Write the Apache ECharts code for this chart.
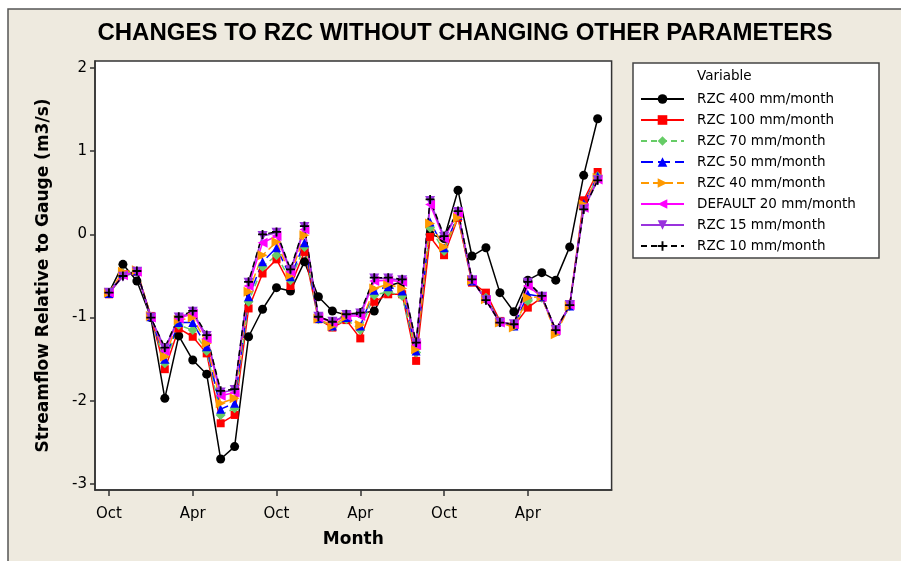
<!DOCTYPE html>
<html>
<head>
<meta charset="utf-8">
<script src="https://cdn.jsdelivr.net/npm/echarts@6/dist/echarts.min.js"></script>
<style>html,body{margin:0;padding:0;background:#fff;}#c{width:901px;height:561px;}</style>
</head>
<body>
<div id="c"></div>
<script>
// month index 0 = Oct (first water year) ... 35 = Sep (third year)
const months = Array.from({length: 36}, (_, i) => i);
const tickPositions = [0, 6, 12, 18, 24, 30];
const tickLabels = ['Oct', 'Apr', 'Oct', 'Apr', 'Oct', 'Apr'];
const yTicks = [-3, -2, -1, 0, 1, 2];

const rzc400 = [-0.70,-0.36,-0.56,-1.00,-1.97,-1.22,-1.51,-1.68,-2.70,-2.55,-1.23,-0.90,-0.64,-0.68,-0.33,-0.75,-0.92,-0.97,-0.95,-0.92,-0.62,-0.57,-1.35,0.00,-0.05,0.53,-0.26,-0.16,-0.70,-0.93,-0.55,-0.46,-0.55,-0.15,0.71,1.39];
const rzc100 = [-0.72,-0.48,-0.45,-0.98,-1.62,-1.13,-1.23,-1.43,-2.27,-2.17,-0.89,-0.47,-0.30,-0.62,-0.21,-1.02,-1.12,-1.03,-1.25,-0.81,-0.72,-0.72,-1.52,-0.03,-0.25,0.20,-0.58,-0.70,-1.04,-1.10,-0.88,-0.76,-1.15,-0.85,0.41,0.75];
const rzc70 = [-0.71,-0.47,-0.45,-0.99,-1.55,-1.09,-1.15,-1.40,-2.17,-2.09,-0.81,-0.39,-0.25,-0.55,-0.15,-1.02,-1.11,-1.02,-1.15,-0.73,-0.69,-0.74,-1.42,0.08,-0.20,0.22,-0.56,-0.76,-1.05,-1.10,-0.80,-0.76,-1.17,-0.86,0.35,0.70];
const rzc50 = [-0.71,-0.47,-0.44,-0.99,-1.50,-1.06,-1.06,-1.35,-2.10,-2.03,-0.75,-0.33,-0.16,-0.51,-0.10,-1.01,-1.10,-1.00,-1.10,-0.67,-0.63,-0.68,-1.40,0.15,-0.16,0.23,-0.56,-0.77,-1.05,-1.10,-0.72,-0.75,-1.16,-0.86,0.37,0.70];
const rzc40 = [-0.70,-0.45,-0.43,-0.98,-1.47,-1.03,-1.00,-1.31,-2.03,-1.97,-0.69,-0.25,-0.09,-0.49,-0.01,-1.01,-1.10,-0.99,-1.09,-0.65,-0.60,-0.65,-1.38,0.13,-0.15,0.20,-0.55,-0.78,-1.06,-1.12,-0.76,-0.75,-1.20,-0.86,0.36,0.68];
const default20 = [-0.70,-0.49,-0.45,-1.00,-1.40,-1.01,-0.95,-1.25,-1.94,-1.90,-0.62,-0.10,-0.02,-0.45,0.06,-1.00,-1.06,-0.98,-0.98,-0.56,-0.55,-0.57,-1.33,0.36,-0.05,0.26,-0.55,-0.79,-1.06,-1.08,-0.62,-0.75,-1.15,-0.85,0.32,0.66];
const rzc15 = [-0.70,-0.51,-0.45,-1.00,-1.37,-1.00,-0.93,-1.22,-1.90,-1.87,-0.58,-0.02,0.02,-0.43,0.09,-0.99,-1.05,-0.97,-0.95,-0.53,-0.53,-0.55,-1.31,0.40,-0.03,0.27,-0.55,-0.79,-1.06,-1.08,-0.58,-0.75,-1.15,-0.85,0.30,0.65];
const rzc10 = [-0.70,-0.50,-0.44,-1.00,-1.36,-0.99,-0.92,-1.21,-1.88,-1.86,-0.57,0.00,0.03,-0.42,0.10,-0.99,-1.05,-0.96,-0.94,-0.52,-0.52,-0.54,-1.30,0.42,-0.02,0.28,-0.54,-0.79,-1.06,-1.08,-0.57,-0.74,-1.15,-0.85,0.30,0.65];

const FONT = 'DejaVu Sans';
const plusPath = 'path://M4,0 L6,0 L6,4 L10,4 L10,6 L6,6 L6,10 L4,10 L4,6 L0,6 L0,4 L4,4 Z';

function mk(name, data, color, symbol, size, lineType, rotate) {
  return {
    name: name,
    type: 'line',
    data: months.map((m, i) => [m, data[i]]),
    symbol: symbol,
    symbolSize: size,
    symbolRotate: rotate || 0,
    lineStyle: {color: color, width: 1.5, type: lineType},
    itemStyle: {color: color},
    emphasis: {disabled: true},
    animation: false
  };
}

const chart = echarts.init(document.getElementById('c'), null, {renderer: 'canvas'});
chart.setOption({
  backgroundColor: '#ffffff',
  animation: false,
  title: {
    text: 'CHANGES TO RZC WITHOUT CHANGING OTHER PARAMETERS',
    left: 460, top: 16, textAlign: 'center',
    textStyle: {fontFamily: 'Liberation Sans', fontWeight: 'bold', fontSize: 24, color: '#000'}
  },
  graphic: [
    {type: 'rect', z: -100, shape: {x: 8, y: 9, width: 900, height: 560},
     style: {fill: '#EEEADF', stroke: '#555', lineWidth: 1.5}},
    {type: 'rect', z: -50, shape: {x: 633, y: 63, width: 246, height: 195},
     style: {fill: '#ffffff', stroke: '#444', lineWidth: 1.5}},
    {type: 'text', left: 697, top: 69,
     style: {text: 'Variable', font: '13.5px "DejaVu Sans"', fill: '#000'}}
  ],
  legend: {
    orient: 'vertical', left: 640, top: 92, padding: 0,
    itemWidth: 43, itemHeight: 12, itemGap: 7, itemTextGap: 13,
    textStyle: {fontFamily: FONT, fontSize: 13.5, color: '#000', padding: [0, 0, 0, 8]},
    selectedMode: false
  },
  grid: {left: 95, right: 289.4, top: 61, bottom: 71, show: true,
         backgroundColor: '#ffffff', borderColor: '#333', borderWidth: 1.5},
  xAxis: {
    type: 'value', min: -1, max: 36,
    name: 'Month', nameLocation: 'middle', nameGap: 41,
    nameTextStyle: {fontFamily: FONT, fontWeight: 'bold', fontSize: 17, color: '#000'},
    splitLine: {show: false},
    axisLine: {show: true, onZero: false, lineStyle: {color: '#333', width: 1.5}},
    axisTick: {show: true, inside: false, length: 6, customValues: tickPositions, lineStyle: {color: '#333', width: 1.5}},
    axisLabel: {customValues: tickPositions, margin: 17, fontFamily: FONT, fontSize: 15, color: '#000',
      formatter: v => tickLabels[tickPositions.indexOf(Math.round(v))] || ''}
  },
  yAxis: {
    type: 'value', min: -3.072, max: 2.084,
    name: 'Streamflow Relative to Gauge (m3/s)', nameLocation: 'middle', nameGap: 43, nameRotate: 90,
    nameTextStyle: {fontFamily: FONT, fontWeight: 'bold', fontSize: 17, color: '#000'},
    splitLine: {show: false},
    axisLine: {show: true, onZero: false, lineStyle: {color: '#333', width: 1.5}},
    axisTick: {show: true, inside: false, length: 5, customValues: yTicks, lineStyle: {color: '#333', width: 1.5}},
    axisLabel: {customValues: yTicks, margin: 8, fontFamily: FONT, fontSize: 15, color: '#000',
      formatter: v => String(Math.round(v))}
  },
  series: [
    mk('RZC 400 mm/month', rzc400, '#000000', 'circle', 9, 'solid'),
    mk('RZC 100 mm/month', rzc100, '#FF0000', 'rect', 8, 'solid'),
    mk('RZC 70 mm/month', rzc70, '#66CC66', 'diamond', 10, [6, 4]),
    mk('RZC 50 mm/month', rzc50, '#0000FF', 'triangle', 9, [12, 5]),
    mk('RZC 40 mm/month', rzc40, '#FF9900', 'triangle', 10, [8, 4], -90),
    mk('DEFAULT 20 mm/month', default20, '#FF00FF', 'triangle', 10, 'solid', 90),
    mk('RZC 15 mm/month', rzc15, '#9933DD', 'triangle', 10, 'solid', 180),
    mk('RZC 10 mm/month', rzc10, '#000000', plusPath, 9, [6, 4])
  ]
});
</script>
</body>
</html>
